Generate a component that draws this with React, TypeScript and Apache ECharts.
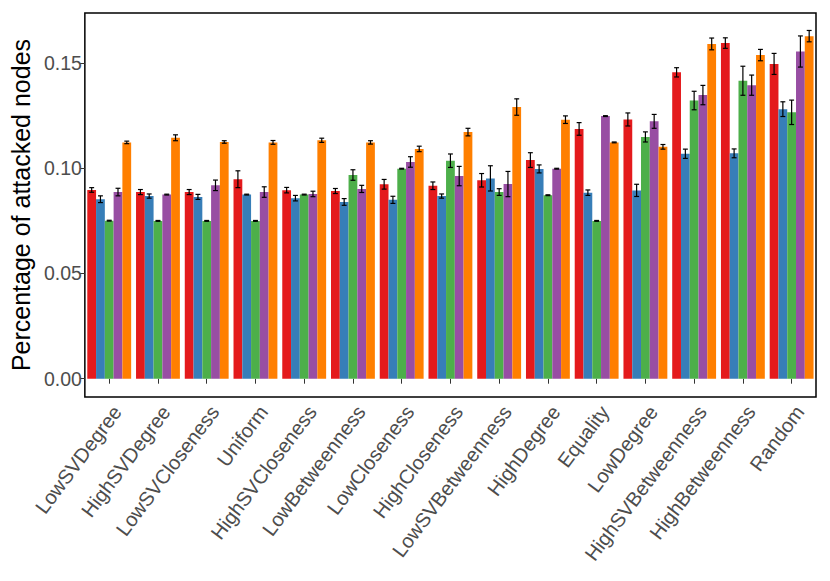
import React, { useEffect, useRef } from "react";
import * as echarts from "echarts";

const categories = [
  "LowSVDegree", "HighSVDegree", "LowSVCloseness", "Uniform", "HighSVCloseness",
  "LowBetweenness", "LowCloseness", "HighCloseness", "LowSVBetweenness", "HighDegree",
  "Equality", "LowDegree", "HighSVBetweenness", "HighBetweenness", "Random",
];

const redValues = [0.0897, 0.0887, 0.0887, 0.0948, 0.0896, 0.0892, 0.0924, 0.0917, 0.0943, 0.1039, 0.1187, 0.1232, 0.1456, 0.1595, 0.1496];
const blueValues = [0.0853, 0.0868, 0.0864, 0.0875, 0.0858, 0.084, 0.085, 0.0868, 0.0952, 0.0997, 0.0884, 0.0895, 0.1069, 0.1071, 0.1281];
const greenValues = [0.0751, 0.075, 0.075, 0.075, 0.0875, 0.0968, 0.0998, 0.1036, 0.0887, 0.0872, 0.075, 0.1149, 0.1322, 0.1416, 0.1266];
const purpleValues = [0.0887, 0.0875, 0.0919, 0.0887, 0.0878, 0.0902, 0.103, 0.0963, 0.0925, 0.0998, 0.1248, 0.1223, 0.1348, 0.1395, 0.1555];
const orangeValues = [0.1123, 0.1145, 0.1125, 0.1123, 0.1133, 0.1123, 0.1092, 0.1172, 0.1291, 0.1231, 0.1123, 0.1102, 0.1591, 0.1538, 0.1628];

const redErr = [0.0011, 0.0012, 0.0012, 0.004, 0.0013, 0.0012, 0.0023, 0.0018, 0.0032, 0.0035, 0.003, 0.0031, 0.0022, 0.0025, 0.005];
const blueErr = [0.0016, 0.001, 0.0012, 0.0002, 0.0013, 0.0016, 0.0017, 0.001, 0.006, 0.0019, 0.0013, 0.0029, 0.0022, 0.0021, 0.0035];
const greenErr = [0.0002, 0.0002, 0.0002, 0.0002, 0.0002, 0.0025, 0.0002, 0.0032, 0.0016, 0.0002, 0.0002, 0.0024, 0.0044, 0.0069, 0.0058];
const purpleErr = [0.0018, 0.0002, 0.0025, 0.0025, 0.0013, 0.0017, 0.0025, 0.0046, 0.006, 0.0002, 0.0002, 0.0033, 0.0046, 0.0048, 0.0074];
const orangeErr = [0.0006, 0.0014, 0.0006, 0.0009, 0.001, 0.0008, 0.0013, 0.0018, 0.0039, 0.0018, 0.0002, 0.0011, 0.0028, 0.0027, 0.0027];

const yTicks = [0, 0.05, 0.1, 0.15];

const seriesValues = [redValues, blueValues, greenValues, purpleValues, orangeValues];
const seriesErrs = [redErr, blueErr, greenErr, purpleErr, orangeErr];
const colors = ["#E41A1C", "#377EB8", "#4DAF4A", "#984EA3", "#FF7F00"];
const NS = 5;

export default function App() {
  const ref = useRef<HTMLDivElement>(null);
  useEffect(() => {
    document.body.style.margin = "0";
    const chart = echarts.init(ref.current!, null, { renderer: "svg" });
    const font = "'Liberation Sans', Arial, Helvetica, sans-serif";

    const errData: number[][] = [];
    seriesValues.forEach((vals, s) => {
      vals.forEach((v, i) => errData.push([i, v, seriesErrs[s][i], s]));
    });

    const barSeries = seriesValues.map((vals, s) => ({
      type: "bar",
      name: "s" + s,
      data: vals,
      itemStyle: { color: colors[s] },
      barGap: "0%",
      barCategoryGap: "10%",
    }));

    const option: any = {
      animation: false,
      backgroundColor: "#ffffff",
      grid: {
        left: 83,
        right: 14,
        top: 13,
        bottom: 184,
        show: true,
        borderColor: "#000000",
        borderWidth: 1.5,
        backgroundColor: "transparent",
      },
      xAxis: {
        type: "category",
        data: categories,
        axisLine: { show: false },
        axisTick: { show: true, alignWithLabel: true, length: 5, lineStyle: { color: "#333333", width: 1 } },
        axisLabel: {
          rotate: 53,
          interval: 0,
          margin: 5,
          verticalAlign: "top",
          color: "#4D4D4D",
          fontSize: 20,
          fontFamily: font,
        },
        splitLine: { show: false },
      },
      yAxis: {
        type: "value",
        min: -0.0087,
        max: 0.1738,
        name: "Percentage of attacked nodes",
        nameLocation: "middle",
        nameGap: 50,
        nameTextStyle: { color: "#000000", fontSize: 25, fontFamily: font },
        axisLine: { show: false },
        axisTick: { show: true, length: 5, customValues: yTicks, lineStyle: { color: "#333333", width: 1 } },
        axisLabel: {
          customValues: yTicks,
          formatter: (v: number) => v.toFixed(2),
          color: "#4D4D4D",
          fontSize: 19.5,
          fontFamily: font,
          margin: 3,
        },
        splitLine: { show: false },
      },
      series: [
        ...barSeries,
        {
          type: "custom",
          z: 10,
          data: errData,
          encode: { x: 0, y: 1 },
          renderItem: (params: any, api: any) => {
            const cat = api.value(0);
            const val = api.value(1);
            const err = api.value(2);
            const s = api.value(3);
            const center = api.coord([cat, val]);
            const band = api.size([1, 0])[0];
            const barW = (band * 0.9) / NS;
            const x = center[0] + (s - (NS - 1) / 2) * barW;
            const yTop = api.coord([cat, val + err])[1];
            const yBot = api.coord([cat, val - err])[1];
            const half = barW * 0.28;
            const st = { stroke: "#000000", lineWidth: 1.2 };
            return {
              type: "group",
              children: [
                { type: "line", shape: { x1: x, y1: yTop, x2: x, y2: yBot }, style: st },
                { type: "line", shape: { x1: x - half, y1: yTop, x2: x + half, y2: yTop }, style: st },
                { type: "line", shape: { x1: x - half, y1: yBot, x2: x + half, y2: yBot }, style: st },
              ],
            };
          },
        },
      ],
    };
    chart.setOption(option);
    return () => chart.dispose();
  }, []);
  return <div ref={ref} style={{ width: 830, height: 581 }} />;
}
